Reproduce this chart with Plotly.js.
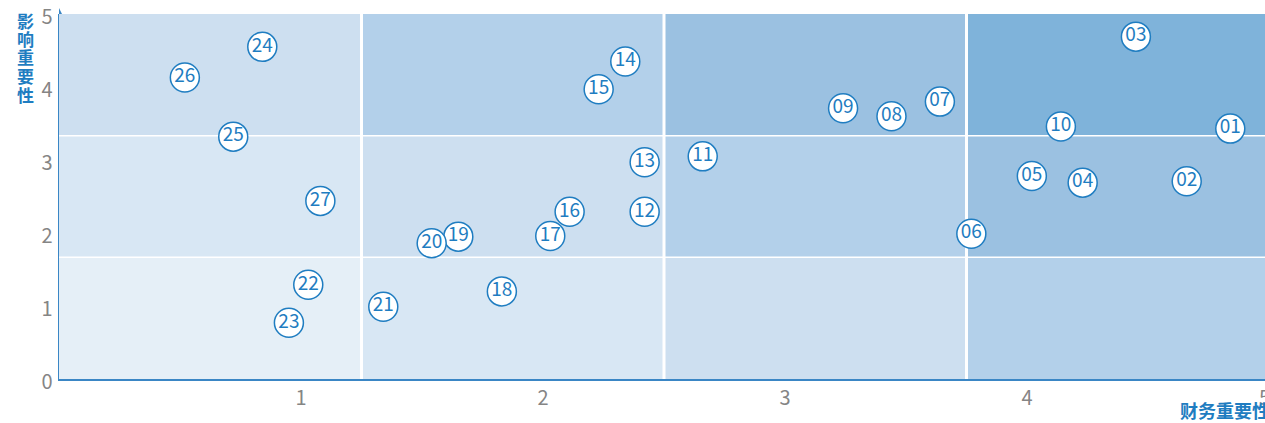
<!DOCTYPE html>
<html>
<head>
<meta charset="utf-8">
<script src="https://cdn.plot.ly/plotly-3.0.1.min.js"></script>
<style>
html,body{margin:0;padding:0;overflow:hidden;background:#fff;}
#chart{width:1300px;height:423px;}
</style>
</head>
<body>
<div id="chart"></div>
<script>
// Data
const labels = ["01","02","03","04","05","06","07","08","09","10","11","12","13","14","15","16","17","18","19","20","21","22","23","24","25","26","27"];
const financial = [4.84,4.66,4.45,4.23,4.02,3.77,3.64,3.44,3.24,4.14,2.66,2.42,2.42,2.34,2.23,2.11,2.03,1.83,1.65,1.54,1.34,1.03,0.95,0.84,0.72,0.52,1.08];
const impact    = [3.43,2.71,4.69,2.69,2.78,1.99,3.80,3.60,3.71,3.46,3.05,2.29,2.97,4.35,3.97,2.29,1.96,1.20,1.95,1.86,0.99,1.29,0.77,4.55,3.32,4.13,2.44];
const xTicks = [1,2,3,4,5];
const xTickText = ["1","2","3","4","5\u00a0\u00a0"];
const yTicks = [0,1,2,3,4,5];
const colBounds = [0,1.25,2.5,3.75,5];
const rowBounds = [0,5/3,10/3,5];
const levelColors = ["#e5eff7","#d8e7f4","#cddff0","#b3d0ea","#9bc1e1","#7fb3da"];
const xTitle = "财务重要性";
const yTitle = "影响重要性";

const blue = "#1f7dc1";
const axisBlue = "#3a86c5";
const tickGrey = "#858585";
const fontFam = "'Noto Sans CJK SC','Noto Sans',sans-serif";

const shapes = [];
for (let c = 0; c < colBounds.length - 1; c++) {
  for (let r = 0; r < rowBounds.length - 1; r++) {
    shapes.push({type:"rect", layer:"below", xref:"x", yref:"y",
      x0:colBounds[c], x1:colBounds[c+1], y0:rowBounds[r], y1:rowBounds[r+1],
      fillcolor:levelColors[c+r], line:{width:0}});
  }
}
for (let c = 1; c < colBounds.length - 1; c++) {
  shapes.push({type:"line", layer:"below", xref:"x", yref:"y",
    x0:colBounds[c], x1:colBounds[c], y0:0, y1:5, line:{color:"#ffffff", width:3}});
}
for (let r = 1; r < rowBounds.length - 1; r++) {
  shapes.push({type:"line", layer:"below", xref:"x", yref:"y",
    x0:0, x1:5, y0:rowBounds[r], y1:rowBounds[r], line:{color:"#ffffff", width:1.5}});
}
// arrow head on y axis
shapes.push({type:"path", xref:"x", yref:"paper", xsizemode:"pixel", ysizemode:"pixel",
  xanchor:0, yanchor:1, path:"M-3,0 L3,0 L0,6 Z", fillcolor:axisBlue, line:{width:0}});

const annotations = [];
const yChars = Array.from(yTitle);
const plotTop = 14, plotH = 365, plotW = 1210;
const charPx = [20, 38.5, 57, 75.5, 94];
yChars.forEach((ch, i) => {
  annotations.push({text:ch, xref:"paper", yref:"paper", x:-34/plotW, y:(plotTop + plotH - charPx[i]) / plotH,
    xanchor:"center", yanchor:"middle", showarrow:false,
    font:{family:fontFam, size:17, color:blue, weight:"bold"}});
});
annotations.push({text:xTitle, xref:"paper", yref:"paper", x:(1178-59)/plotW, y:-31/plotH,
  xanchor:"left", yanchor:"middle", showarrow:false,
  font:{family:fontFam, size:18, color:blue, weight:"bold"}});

const trace = {
  type:"scatter", mode:"markers+text",
  x:financial, y:impact, text:labels, textposition:"middle center",
  cliponaxis:false,
  marker:{size:29, color:"#ffffff", line:{color:blue, width:1.5}},
  textfont:{family:fontFam, size:19, color:blue},
  hoverinfo:"skip"
};

const layout = {
  width:1300, height:423,
  margin:{l:59, r:31, t:14, b:44, pad:0},
  paper_bgcolor:"#ffffff", plot_bgcolor:"#ffffff",
  showlegend:false,
  xaxis:{range:[0,5], tickvals:xTicks, ticktext:xTickText, showgrid:false, zeroline:false,
    showline:true, linecolor:axisBlue, linewidth:1.5, ticks:"", ticklabelstandoff:0,
    tickfont:{family:fontFam, size:20, color:tickGrey}, fixedrange:true},
  yaxis:{range:[0,5], tickvals:yTicks, ticktext:yTicks.map(String), showgrid:false, zeroline:false,
    showline:true, linecolor:axisBlue, linewidth:1.5, ticks:"", ticklabelstandoff:1, ticklabelshift:3,
    tickfont:{family:fontFam, size:20, color:tickGrey}, fixedrange:true},
  shapes:shapes,
  annotations:annotations
};

Plotly.newPlot("chart", [trace], layout, {displayModeBar:false, staticPlot:true});
</script>
</body>
</html>
